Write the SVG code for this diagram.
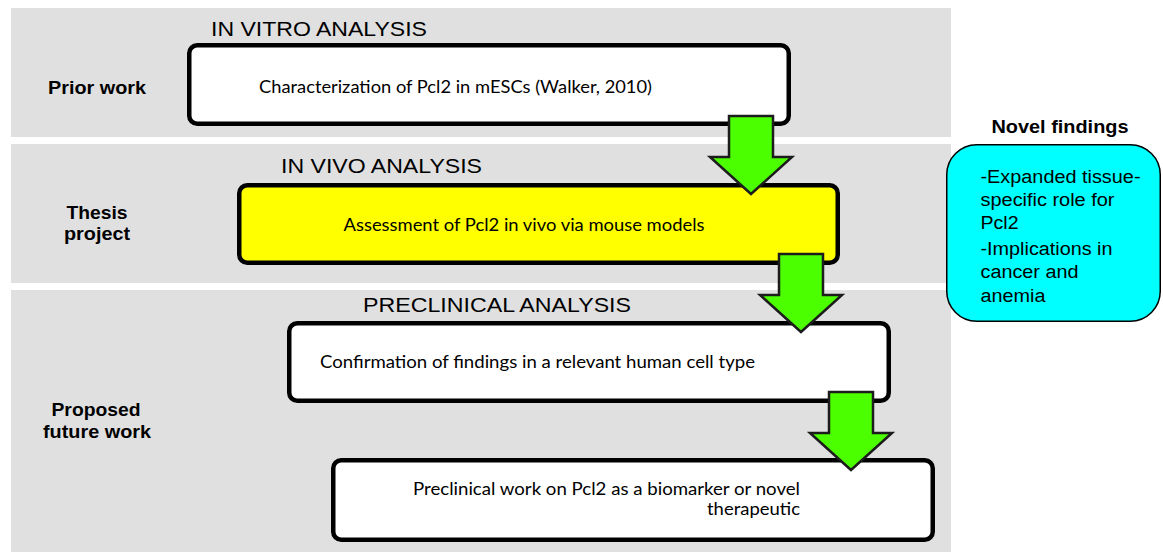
<svg xmlns="http://www.w3.org/2000/svg" width="1163" height="552" viewBox="0 0 1163 552">
<defs>
<style>
.band{fill:#e0e0e0}
.box{stroke:#000;stroke-width:4.5}
.white{fill:#fff}
.yellow{fill:#ffff00}
.arrow{fill:#4cff00;stroke:#1c1c1c;stroke-width:2.5;stroke-linejoin:miter}
.head{font-family:"Liberation Sans",Arial,sans-serif;font-size:21px;fill:#000}
.lbl{font-family:"Liberation Sans",Arial,sans-serif;font-size:19px;font-weight:bold;fill:#000;text-anchor:middle}
.bt{font-family:Lato,"Open Sans",sans-serif;font-size:18px;fill:#000}
.ct{font-family:"Liberation Sans",Arial,sans-serif;font-size:18px;fill:#000}
</style>
<path id="arr" d="M -22 0 H 22 V 41 H 41 L 0 78 L -41 41 H -22 Z"/>
</defs>
<rect width="1163" height="552" fill="#fff"/>
<g id="bands">
<rect class="band" x="11" y="8" width="940" height="129"/>
<rect class="band" x="11" y="144" width="940" height="139"/>
<rect class="band" x="11" y="290" width="940" height="262"/>
</g>
<g id="labels">
<text class="lbl" x="97" y="94" textLength="98" lengthAdjust="spacingAndGlyphs">Prior work</text>
<text class="lbl" x="97" y="219" textLength="61" lengthAdjust="spacingAndGlyphs">Thesis</text>
<text class="lbl" x="97" y="240" textLength="66" lengthAdjust="spacingAndGlyphs">project</text>
<text class="lbl" x="96" y="416" textLength="89" lengthAdjust="spacingAndGlyphs">Proposed</text>
<text class="lbl" x="97" y="438" textLength="108" lengthAdjust="spacingAndGlyphs">future work</text>
<text class="head" x="211" y="36" textLength="216" lengthAdjust="spacingAndGlyphs">IN VITRO ANALYSIS</text>
<text class="head" x="281" y="173" textLength="201" lengthAdjust="spacingAndGlyphs">IN VIVO ANALYSIS</text>
<text class="head" x="363" y="312" textLength="268" lengthAdjust="spacingAndGlyphs">PRECLINICAL ANALYSIS</text>
</g>
<g id="node-invitro">
<rect class="box white" x="189.25" y="45.25" width="599.5" height="78.5" rx="8"/>
<text class="bt" x="259" y="93" textLength="393" lengthAdjust="spacingAndGlyphs">Characterization of Pcl2 in mESCs (Walker, 2010)</text>
</g>
<g id="node-invivo">
<rect class="box yellow" x="239.25" y="185.25" width="598.5" height="77.5" rx="8"/>
<text class="bt" x="343.5" y="231" textLength="361" lengthAdjust="spacingAndGlyphs">Assessment of Pcl2 in vivo via mouse models</text>
</g>
<g id="node-confirm">
<rect class="box white" x="289.25" y="323.25" width="599.5" height="77.5" rx="8"/>
<text class="bt" x="320" y="368" textLength="435" lengthAdjust="spacingAndGlyphs">Confirmation of findings in a relevant human cell type</text>
</g>
<g id="node-preclinical">
<rect class="box white" x="333.25" y="460.25" width="599.5" height="79.5" rx="8"/>
<text class="bt" x="413" y="495" textLength="387" lengthAdjust="spacingAndGlyphs">Preclinical work on Pcl2 as a biomarker or novel</text>
<text class="bt" x="800" y="515" text-anchor="end" textLength="93" lengthAdjust="spacingAndGlyphs">therapeutic</text>
</g>
<g id="node-novel">
<text class="lbl" x="1060" y="133" textLength="137" lengthAdjust="spacingAndGlyphs">Novel findings</text>
<rect x="946.75" y="144.75" width="213.5" height="176.5" rx="30" fill="#00ffff" stroke="#000" stroke-width="1.5"/>
<text class="ct" x="980.5" y="183" textLength="160" lengthAdjust="spacingAndGlyphs">-Expanded tissue-</text>
<text class="ct" x="980.5" y="206" textLength="134" lengthAdjust="spacingAndGlyphs">specific role for</text>
<text class="ct" x="980.5" y="229" textLength="38" lengthAdjust="spacingAndGlyphs">Pcl2</text>
<text class="ct" x="980.5" y="255" textLength="132" lengthAdjust="spacingAndGlyphs">-Implications in</text>
<text class="ct" x="980.5" y="278" textLength="98" lengthAdjust="spacingAndGlyphs">cancer and</text>
<text class="ct" x="980.5" y="302" textLength="65" lengthAdjust="spacingAndGlyphs">anemia</text>
</g>
<g id="connectors">
<use href="#arr" class="arrow" transform="translate(751,116)"/>
<use href="#arr" class="arrow" transform="translate(801,254)"/>
<use href="#arr" class="arrow" transform="translate(851,392)"/>
</g>
</svg>
